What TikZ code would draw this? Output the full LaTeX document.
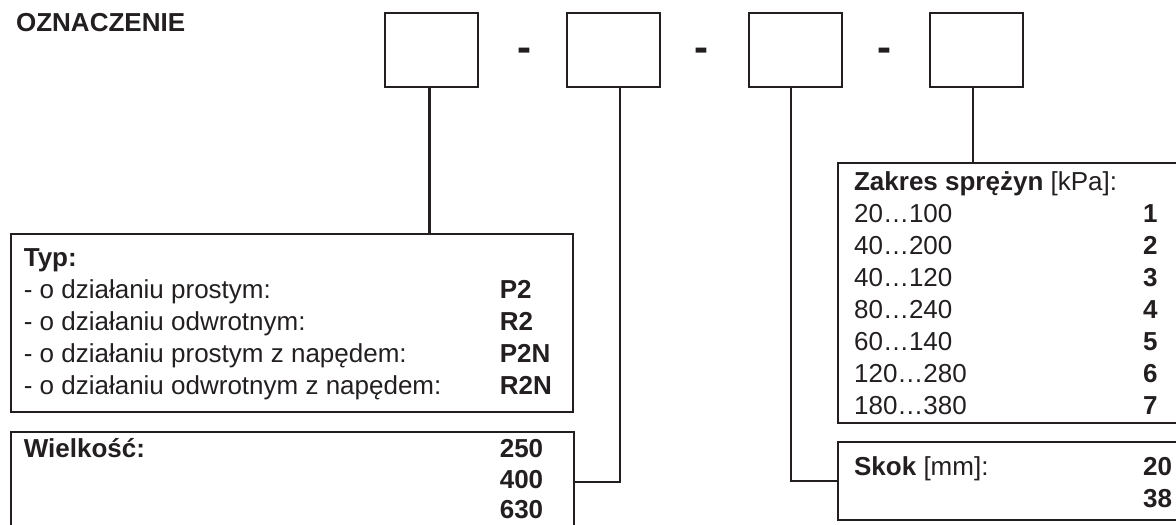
\documentclass[tikz,border=0pt]{standalone}
\usepackage{fontspec}
\setmainfont{Liberation Sans}
\usepackage{array}
\definecolor{ink}{RGB}{35,31,32}

\begin{document}
\begin{tikzpicture}[x=1pt,y=-1pt,line width=2.2pt,color=ink,
    every node/.style={font=\fontsize{26}{32}\selectfont,inner sep=0pt},
    codebox/.style={draw,minimum width=93pt,minimum height=74.6pt},
    infobox/.style={draw,anchor=north west},
    sepdash/.style={anchor=base,font=\fontsize{42}{48}\selectfont\bfseries},
    ]
  \useasboundingbox (0,0) rectangle (1176,525);

  % Title
  \node[anchor=base west,font=\fontsize{26}{32}\selectfont\bfseries] (title) at (15,31.7) {OZNACZENIE};

  % Code boxes
  \node[codebox] (b1) at (431.7,50) {};
  \node[codebox] (b2) at (613.5,50) {};
  \node[codebox] (b3) at (795.5,50) {};
  \node[codebox] (b4) at (976.5,50) {};
  \node[sepdash] (d1) at (524,61.4) {-};
  \node[sepdash] (d2) at (701,61.4) {-};
  \node[sepdash] (d3) at (884,61.4) {-};

  % Boxes with the options
  \node[infobox,minimum width=562pt,minimum height=178pt] (typ) at (10,233) {};
  \node[infobox,minimum width=563pt,minimum height=100pt] (wiel) at (10,431) {};
  \node[infobox,minimum width=345pt,minimum height=260pt] (zak) at (837,162) {};
  \node[infobox,minimum width=345pt,minimum height=77.5pt] (skok) at (837,441) {};

  % Texts
  \node[anchor=north west] (typtxt) at ([shift={(12.7,9.6)}]typ.north west) {%
    \begin{tabular}{@{}p{476pt}@{}l@{}}
      \textbf{Typ:} & \\
      - o działaniu prostym: & \textbf{P2}\\
      - o działaniu odwrotnym: & \textbf{R2}\\
      - o działaniu prostym z napędem: & \textbf{P2N}\\
      - o działaniu odwrotnym z napędem: & \textbf{R2N}
    \end{tabular}};
  \node[anchor=north west] (wieltxt) at ([shift={(12.7,4.4)}]wiel.north west) {%
    \renewcommand{\arraystretch}{0.95}%
    \begin{tabular}{@{}p{476pt}@{}l@{}}
      \textbf{Wielkość:} & \textbf{250}\\
      & \textbf{400}\\
      & \textbf{630}
    \end{tabular}};
  \node[anchor=north west] (zaktxt) at ([shift={(16,5)}]zak.north west) {%
    \begin{tabular}{@{}p{289pt}@{}l@{}}
      \textbf{Zakres sprężyn} [kPa]: & \\
      20…100 & \textbf{1}\\
      40…200 & \textbf{2}\\
      40…120 & \textbf{3}\\
      80…240 & \textbf{4}\\
      60…140 & \textbf{5}\\
      120…280 & \textbf{6}\\
      180…380 & \textbf{7}
    \end{tabular}};
  \node[anchor=north west] (skoktxt) at ([shift={(16,10.6)}]skok.north west) {%
    \begin{tabular}{@{}p{289pt}@{}l@{}}
      \textbf{Skok} [mm]: & \textbf{20}\\
      & \textbf{38}
    \end{tabular}};

  % Connectors
  \draw ([xshift=-2.3pt]b1.south) -- ([xshift=-2.3pt]b1.south |- typ.north);
  \draw ([xshift=6.5pt]b2.south) |- (wiel.east);
  \draw ([xshift=-4.5pt]b3.south) |- (skok.west);
  \draw ([xshift=-3.5pt]b4.south) -- ([xshift=-3.5pt]b4.south |- zak.north);

\end{tikzpicture}
\end{document}
